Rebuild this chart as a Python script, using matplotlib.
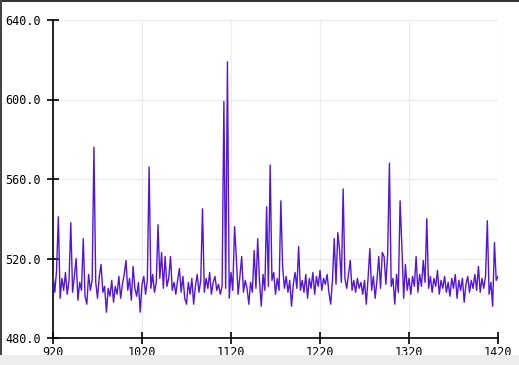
import matplotlib
matplotlib.use("Agg")
import matplotlib.pyplot as plt
import numpy as np

x_start = 920
x_step = 2
values = [
    512, 503, 514, 541, 500, 510, 504, 513, 502, 509,
    538, 503, 511, 520, 499, 508, 504, 530, 501, 497,
    512, 504, 509, 576, 508, 500, 511, 517, 503, 506,
    493, 505, 501, 509, 498, 506, 502, 511, 500, 507,
    512, 519, 504, 510, 499, 516, 505, 501, 508, 493,
    507, 511, 502, 509, 566, 505, 512, 503, 508, 537,
    510, 523, 505, 521, 506, 510, 521, 504, 508, 502,
    509, 515, 503, 511, 500, 497, 508, 502, 510, 497,
    506, 512, 503, 509, 545, 503, 510, 505, 513, 502,
    508, 511, 504, 507, 502, 506, 599, 505, 619, 500,
    513, 504, 536, 520, 502, 511, 521, 503, 509, 505,
    497, 508, 503, 524, 505, 530, 509, 496, 512, 504,
    546, 506, 567, 509, 513, 502, 510, 504, 549, 516,
    505, 511, 503, 509, 496, 507, 513, 505, 526, 504,
    509, 503, 512, 500, 510, 505, 513, 502, 511, 506,
    514, 504, 510, 507, 512, 503, 497, 509, 530, 507,
    533, 524, 508, 555, 510, 505, 512, 519, 504, 509,
    503, 510, 505, 508, 502, 509, 497, 510, 525, 504,
    511, 500, 509, 521, 505, 523, 521, 507, 522, 568,
    506, 510, 497, 512, 503, 549, 526, 500, 517, 504,
    510, 502, 511, 506, 521, 503, 512, 506, 519, 508,
    540, 505, 511, 503, 510, 506, 514, 502, 509, 505,
    511, 503, 508, 501, 510, 505, 512, 500, 509, 504,
    510, 498, 507, 511, 503, 509, 505, 512, 504, 516,
    503, 510, 505, 511, 539, 502, 508, 496, 528, 509,
    511,
]
x_ticks = [920, 1020, 1120, 1220, 1320, 1420]
y_ticks = [480.0, 520.0, 560.0, 600.0, 640.0]

xs = x_start + x_step * np.arange(len(values))

fig = plt.figure(figsize=(5.19, 3.65), dpi=100)
fig.patch.set_facecolor("white")
ax = fig.add_axes([53 / 519, 1 - 338 / 365, 445 / 519, 318 / 365])

ax.plot(xs, values, color="#5214e0", lw=1.0, zorder=3)

ax.set_xlim(920, 1420)
ax.set_ylim(480, 640)
ax.set_xticks(x_ticks)
ax.set_xticklabels([str(t) for t in x_ticks])
ax.set_yticks(y_ticks)
ax.set_yticklabels([f"{t:.1f}" for t in y_ticks])

ax.grid(True, color="#ececec", lw=0.9, zorder=0)
for s in ["top", "right"]:
    ax.spines[s].set_visible(False)
for s in ["left", "bottom"]:
    ax.spines[s].set_color("black")
    ax.spines[s].set_linewidth(1.2)
ax.tick_params(direction="inout", length=8, width=1.2, colors="black",
               labelsize=8.5)
ax.tick_params(axis="y", pad=5)
ax.tick_params(axis="x", pad=2)
for lab in ax.get_xticklabels() + ax.get_yticklabels():
    lab.set_family("DejaVu Sans Mono")

# window frame details
fig.add_artist(plt.Rectangle((0, 1 - 2 / 365), 1, 2 / 365, transform=fig.transFigure,
                             color="#333333", lw=0))
fig.add_artist(plt.Rectangle((0, 0), 2 / 519, 1, transform=fig.transFigure,
                             color="#444444", lw=0))
fig.add_artist(plt.Rectangle((0, 0), 1, 10 / 365, transform=fig.transFigure,
                             color="#ededed", lw=0))

fig.savefig("out.png", dpi=100)
